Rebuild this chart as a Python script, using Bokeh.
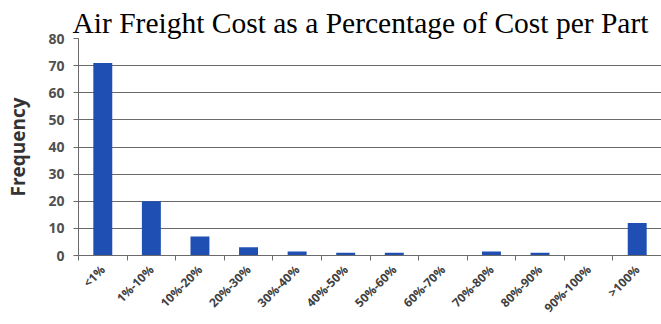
import math
from bokeh.plotting import figure
from bokeh.models import Range1d, FixedTicker, ColumnDataSource
from bokeh.embed import file_html
from bokeh.resources import INLINE

categories = ["<1%", "1%-10%", "10%-20%", "20%-30%", "30%-40%", "40%-50%",
              "50%-60%", "60%-70%", "70%-80%", "80%-90%", "90%-100%", ">100%"]
frequency = [71, 20, 7, 3, 1.5, 1, 1, 0, 1.5, 1, 0, 12]
y_ticks = [0, 10, 20, 30, 40, 50, 60, 70, 80]

centers = [i + 0.5 for i in range(len(categories))]
bounds = [i for i in range(len(categories) + 1)]

p = figure(width=661, height=324, output_backend="svg", toolbar_location=None,
           x_range=Range1d(0, len(categories)), y_range=Range1d(0, 80),
           min_border_left=78, min_border_right=0, min_border_top=38,
           min_border_bottom=69)

p.title.text = "Air Freight Cost as a Percentage of Cost per Part"
p.title.text_font = "Liberation Serif"
p.title.text_font_size = "29.5px"
p.title.text_font_style = "normal"
p.title.text_color = "#000000"
p.title.align = "left"
p.title.offset = -6
p.title.standoff = 0

src = ColumnDataSource(dict(x=centers, top=frequency))
p.vbar(x="x", top="top", width=0.39, bottom=0, source=src,
       fill_color="#1F4FB3", line_color=None)

p.outline_line_color = None
p.xgrid.grid_line_color = None
p.ygrid.ticker = FixedTicker(ticks=y_ticks)
p.ygrid.grid_line_color = "#6a6a6a"
p.ygrid.grid_line_width = 1

# x axis
xa = p.xaxis[0]
xa.ticker = FixedTicker(ticks=centers, minor_ticks=bounds)
xa.major_label_overrides = {c: lab for c, lab in zip(centers, categories)}
xa.major_label_orientation = math.pi / 4
xa.major_tick_line_color = None
xa.minor_tick_line_color = "#6a6a6a"
xa.minor_tick_in = 0
xa.minor_tick_out = 5
xa.axis_line_color = "#6a6a6a"
xa.major_label_text_font = "Open Sans"
xa.major_label_text_font_style = "bold"
xa.major_label_text_font_size = "12px"
xa.major_label_text_color = "#404040"
xa.major_label_standoff = 6

# y axis
ya = p.yaxis[0]
ya.ticker = FixedTicker(ticks=y_ticks)
ya.minor_tick_line_color = None
ya.major_tick_in = 0
ya.major_tick_out = 5
ya.major_tick_line_color = "#6a6a6a"
ya.axis_line_color = "#6a6a6a"
ya.major_label_text_font = "Open Sans"
ya.major_label_text_font_style = "bold"
ya.major_label_text_font_size = "14px"
ya.major_label_text_color = "#505050"
ya.major_label_standoff = 9
ya.axis_label = "Frequency"
ya.axis_label_text_font = "Open Sans"
ya.axis_label_text_font_style = "bold"
ya.axis_label_text_font_size = "19px"
ya.axis_label_text_color = "#333333"
ya.axis_label_standoff = 14

open("out.html", "w").write(file_html(p, INLINE))
